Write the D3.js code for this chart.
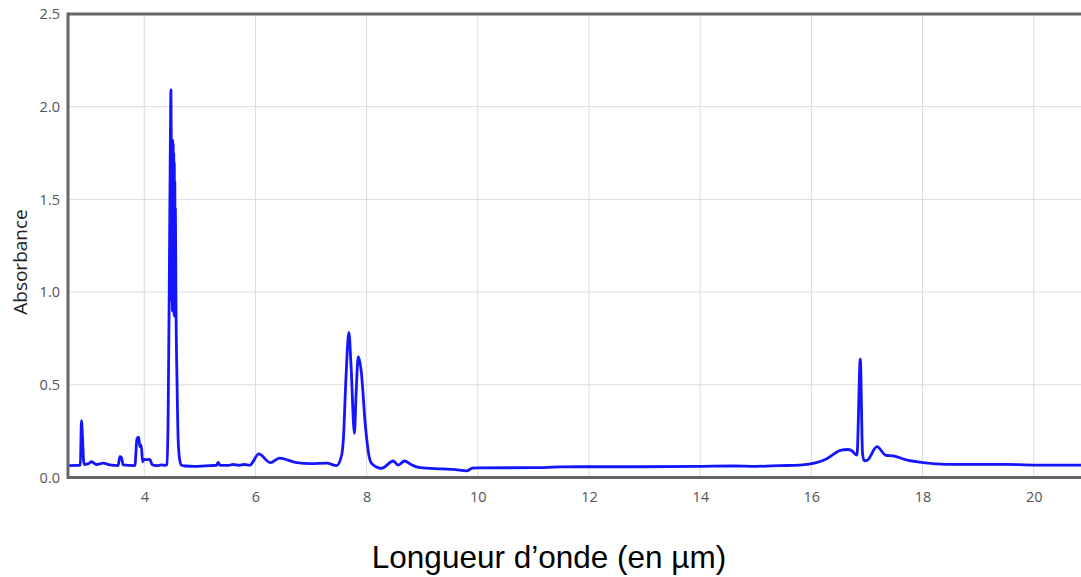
<!DOCTYPE html>
<html>
<head>
<meta charset="utf-8">
<script src="https://cdn.jsdelivr.net/npm/d3@7"></script>
<style>
  html, body { margin: 0; padding: 0; background: #fff; }
  svg { display: block; }
</style>
</head>
<body>
<svg id="chart" width="1081" height="577"></svg>
<script>
// Data
const wavelength = [
  2.63, 2.80, 2.85, 2.87, 2.89, 2.91, 2.93, 3.00, 3.05, 3.14, 3.26, 3.38, 3.53, 3.56, 3.59, 3.62,
  3.83, 3.87, 3.90, 3.92, 3.945, 3.97, 4.00, 4.06, 4.10, 4.14, 4.22, 4.31, 4.37, 4.41,
  4.43, 4.45, 4.47, 4.48, 4.49, 4.495, 4.50, 4.505, 4.51, 4.515, 4.52, 4.525, 4.53, 4.535,
  4.54, 4.545, 4.55, 4.555, 4.56, 4.57, 4.59, 4.61, 4.64, 4.67,
  4.75, 4.9, 5.1, 5.3, 5.33, 5.36, 5.5, 5.6, 5.7, 5.8, 5.9,
  6.06, 6.27, 6.43, 6.74, 7.0, 7.28, 7.46, 7.55, 7.58, 7.63, 7.68, 7.72, 7.78, 7.81, 7.85,
  7.90, 7.98, 8.04, 8.09, 8.27, 8.48, 8.57, 8.68, 8.80, 8.96, 9.37, 9.60, 9.80, 9.90,
  10.0, 11.0, 11.5, 12.0, 13.0, 14.0, 14.6, 15.0, 15.43, 15.79, 16.09, 16.27, 16.54, 16.66,
  16.72, 16.82, 16.88, 16.92, 16.95, 17.0, 17.18, 17.34, 17.47, 17.71, 18.01, 18.43, 19.03,
  19.51, 19.99, 20.85
];
const absorbance = [
  0.064, 0.065, 0.068, 0.306, 0.21, 0.085, 0.07, 0.075, 0.085, 0.07, 0.077, 0.068, 0.064, 0.112, 0.108, 0.068,
  0.064, 0.211, 0.217, 0.166, 0.175, 0.085, 0.098, 0.096, 0.098, 0.07, 0.064, 0.068, 0.066, 0.07,
  0.35, 1.05, 1.85, 2.09, 1.6, 0.95, 1.75, 0.9, 1.82, 0.92, 1.8, 0.9, 1.75, 0.88,
  1.7, 0.87, 1.6, 0.9, 1.45, 0.95, 0.5, 0.2, 0.09, 0.066,
  0.062, 0.06, 0.063, 0.066, 0.082, 0.066, 0.065, 0.07, 0.066, 0.07, 0.067,
  0.127, 0.08, 0.105, 0.08, 0.075, 0.078, 0.064, 0.12, 0.2, 0.55, 0.783, 0.6, 0.238, 0.45, 0.652,
  0.58, 0.27, 0.12, 0.076, 0.05, 0.089, 0.067, 0.089, 0.07, 0.053, 0.046, 0.042, 0.036, 0.05,
  0.052, 0.053, 0.057, 0.058, 0.058, 0.06, 0.062, 0.06, 0.064, 0.067, 0.08, 0.1, 0.148, 0.151,
  0.145, 0.121, 0.639, 0.13, 0.09, 0.092, 0.166, 0.12, 0.117, 0.095, 0.08, 0.071, 0.071,
  0.071, 0.067, 0.067
];
const xTicks = [4, 6, 8, 10, 12, 14, 16, 18, 20];
const yTicks = [0, 0.5, 1.0, 1.5, 2.0, 2.5];
const xTitle = "Longueur d’onde (en µm)";
const yTitle = "Absorbance";

const data = wavelength.map((w, i) => ({ x: w, y: absorbance[i] }));

const svg = d3.select("#chart");
const mLeft = 68, mTop = 14, mBottom = 477.5, mRight = 1081;

const x = d3.scaleLinear().domain([2.628, 20.85]).range([mLeft, mRight]);
const y = d3.scaleLinear().domain([0, 2.5]).range([mBottom, mTop]);

// Grid
const grid = svg.append("g");
grid.selectAll("line.v").data(xTicks).enter().append("line")
  .attr("x1", d => x(d)).attr("x2", d => x(d))
  .attr("y1", mTop).attr("y2", mBottom)
  .attr("stroke", "#dcdcdc").attr("stroke-width", 1);
grid.selectAll("line.h").data(yTicks.filter(d => d > 0 && d < 2.5)).enter().append("line")
  .attr("x1", mLeft).attr("x2", mRight)
  .attr("y1", d => y(d)).attr("y2", d => y(d))
  .attr("stroke", "#dcdcdc").attr("stroke-width", 1);

// Axes with tick labels
const xAxis = d3.axisBottom(x).tickValues(xTicks).tickSize(0).tickPadding(14).tickFormat(d3.format("d"));
const gx = svg.append("g").attr("transform", `translate(0,${mBottom})`).call(xAxis);
gx.select(".domain").remove();
gx.selectAll("text").attr("fill", "#555").style("font-family", "'Open Sans', sans-serif").style("font-size", "14.5px");

const yAxis = d3.axisLeft(y).tickValues(yTicks).tickSize(0).tickPadding(8).tickFormat(d3.format(".1f"));
const gy = svg.append("g").attr("transform", `translate(${mLeft},0)`).call(yAxis);
gy.select(".domain").remove();
gy.selectAll("text").attr("fill", "#555").style("font-family", "'Open Sans', sans-serif").style("font-size", "14.5px");

// Clip
svg.append("clipPath").attr("id", "clip").append("rect")
  .attr("x", mLeft).attr("y", mTop).attr("width", mRight - mLeft).attr("height", mBottom - mTop);

// Spectrum line
const line = d3.line().x(d => x(d.x)).y(d => y(d.y)).curve(d3.curveMonotoneX);
svg.append("path").datum(data)
  .attr("clip-path", "url(#clip)")
  .attr("d", line)
  .attr("fill", "none")
  .attr("stroke", "#1414ff")
  .attr("stroke-width", 2.8)
  .attr("stroke-linejoin", "round");

// Frame
svg.append("line").attr("x1", mLeft).attr("x2", mLeft).attr("y1", mTop - 1.5).attr("y2", mBottom + 1.5)
  .attr("stroke", "#666").attr("stroke-width", 3);
svg.append("line").attr("x1", mLeft).attr("x2", mRight).attr("y1", mTop).attr("y2", mTop)
  .attr("stroke", "#666").attr("stroke-width", 3);
svg.append("line").attr("x1", mLeft).attr("x2", mRight).attr("y1", mBottom).attr("y2", mBottom)
  .attr("stroke", "#666").attr("stroke-width", 3);

// Titles
svg.append("text")
  .attr("transform", `translate(27,262) rotate(-90)`)
  .attr("text-anchor", "middle")
  .style("font-family", "'Open Sans', sans-serif")
  .style("font-size", "19px")
  .attr("fill", "#222")
  .text(yTitle);

svg.append("text")
  .attr("x", 549).attr("y", 568)
  .attr("text-anchor", "middle")
  .style("font-family", "'Liberation Sans', Arial, sans-serif")
  .style("font-size", "31.5px")
  .attr("fill", "#000")
  .text(xTitle);
</script>
</body>
</html>
